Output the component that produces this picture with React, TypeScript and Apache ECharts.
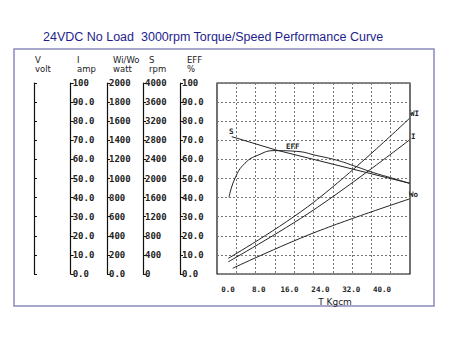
import React, { useEffect, useRef } from 'react';
import * as echarts from 'echarts';

const TITLE = '24VDC No Load  3000rpm Torque/Speed Performance Curve';
const xLabelTicks = [0, 8, 16, 24, 32, 40];
const axisHeaders = [
  ['V', 'volt'],
  ['I', 'amp'],
  ['Wi/Wo', 'watt'],
  ['S', 'rpm'],
  ['EFF', '%'],
];
const iMax = 100;
const wMax = 2000;
const sMax = 4000;
const effMax = 100;

// curve data in plot units (x: 0..40 across grid, y: 0..100 of full scale)
const sData: [number, number][] = [[3.05, 71.9], [12.1, 65.0], [39.9, 47.5]];
const effData: [number, number][] = [
  [2.49, 40.2], [3.73, 50.1], [5.8, 58.0], [8.56, 62.3], [12.0, 64.6], [16.5, 64.2],
  [20.7, 62.0], [24.8, 59.6], [28.2, 56.8], [32.4, 53.1], [35.9, 50.5], [39.9, 47.5],
];
const wiData: [number, number][] = [[2.34, 8.2], [20, 37.5], [39.9, 81.5]];
const iData: [number, number][] = [[2.34, 6.4], [20, 33.5], [39.9, 70.2]];
const woData: [number, number][] = [[3.25, 3.0], [20, 21.5], [39.9, 39.3]];

const MONO = 'DejaVu Sans Mono';
const SANS = 'DejaVu Sans';

function fmt1(v: number, max: number) {
  if (v === max) return String(max);
  return v.toFixed(1);
}

export default function App() {
  const ref = useRef<HTMLDivElement>(null);
  useEffect(() => {
    const chart = echarts.init(ref.current!, null, { renderer: 'svg' });
    const lineStyle = { color: '#222', width: 1 };
    const axisLine = { show: true, lineStyle: { color: '#111', width: 1.2 } };
    const tick = { show: true, inside: true, length: 3, lineStyle: { color: '#111', width: 1 } };
    const lbl = (formatter: any) => ({
      show: true, inside: true, margin: 2, color: '#222', fontFamily: MONO, fontWeight: 'bold' as const, fontSize: 9, formatter,
    });
    const sideAxis = (offset: number, max: number, formatter: any, showLabel = true) => ({
      type: 'value', gridIndex: 0, position: 'left', offset, min: 0, max, interval: max / 10,
      axisLine, axisTick: tick, splitLine: { show: false },
      axisLabel: showLabel ? lbl(formatter) : { show: false },
    });
    const headerGraphics: any[] = [];
    const headerX = [35, 77, 113, 149, 187];
    axisHeaders.forEach((h, i) => {
      headerGraphics.push({ type: 'text', x: headerX[i], y: 60, style: { text: h[0], font: `8.5px "${SANS}"`, fill: '#222', verticalAlign: 'middle' } });
      headerGraphics.push({ type: 'text', x: headerX[i], y: 69, style: { text: h[1], font: `8.5px "${SANS}"`, fill: '#222', verticalAlign: 'middle' } });
    });
    const curveLbl = (text: string, x: number, y: number) => ({
      type: 'text', x, y, style: { text, font: `bold 7.5px "${MONO}"`, fill: '#222', verticalAlign: 'middle' },
    });
    const option: any = {
      animation: false,
      backgroundColor: '#fff',
      grid: [
        { left: 217, right: 40, top: 83, bottom: 64, show: true, borderColor: '#111', borderWidth: 1.2, backgroundColor: 'transparent', containLabel: false, outerBoundsMode: 'none' },
        { left: 228, width: 154, top: 83, bottom: 64, show: false, containLabel: false, outerBoundsMode: 'none' },
      ],
      xAxis: [
        {
          type: 'value', gridIndex: 0, min: 0, max: 40, interval: 4,
          axisLine: { show: false }, axisTick: { show: false }, axisLabel: { show: false },
          splitLine: { show: true, lineStyle: { color: '#777', type: [2, 2], width: 1 } },
        },
        {
          type: 'value', gridIndex: 1, min: 0, max: 40, interval: 8,
          axisLine: { show: false }, axisTick: { show: false }, splitLine: { show: false },
          axisLabel: { show: true, margin: 11, color: '#222', fontFamily: MONO, fontWeight: 'bold', fontSize: 7.5, formatter: (v: number) => (xLabelTicks.includes(v) ? v.toFixed(1) : '') },
        },
      ],
      yAxis: [
        {
          type: 'value', gridIndex: 0, position: 'left', min: 0, max: 100, interval: 10,
          axisLine: { show: false }, axisTick: { show: false }, axisLabel: { show: false },
          splitLine: { show: true, lineStyle: { color: '#777', type: [2, 2], width: 1 } },
        },
        sideAxis(183, 100, null, false),
        sideAxis(146.3, iMax, (v: number) => fmt1(v, iMax)),
        sideAxis(110, wMax, (v: number) => (v === 0 ? '0.0' : String(v))),
        sideAxis(74, sMax, (v: number) => String(v)),
        sideAxis(37, effMax, (v: number) => fmt1(v, effMax)),
        { type: 'value', gridIndex: 1, show: false, min: 0, max: 100 },
      ],
      series: [
        { type: 'line', name: 'S', data: sData, xAxisIndex: 0, yAxisIndex: 0, showSymbol: false, lineStyle, smooth: false },
        { type: 'line', name: 'EFF', data: effData, xAxisIndex: 0, yAxisIndex: 0, showSymbol: false, lineStyle, smooth: true },
        { type: 'line', name: 'WI', data: wiData, xAxisIndex: 0, yAxisIndex: 0, showSymbol: false, lineStyle, smooth: 0.4 },
        { type: 'line', name: 'I', data: iData, xAxisIndex: 0, yAxisIndex: 0, showSymbol: false, lineStyle, smooth: 0.4 },
        { type: 'line', name: 'Wo', data: woData, xAxisIndex: 0, yAxisIndex: 0, showSymbol: false, lineStyle, smooth: 0.4 },
      ],
      graphic: [
        { type: 'rect', shape: { x: 14, y: 49, width: 420, height: 257 }, style: { fill: 'none', stroke: '#8a8abf', lineWidth: 1.5 }, silent: true },
        { type: 'text', x: 43, y: 37, style: { text: TITLE, font: '12.5px "Liberation Sans"', fill: '#1e1e8e', verticalAlign: 'middle' } },
        ...headerGraphics,
        { type: 'text', x: 335, y: 302, style: { text: 'T Kgcm', font: `9px "${SANS}"`, fill: '#222', align: 'center', verticalAlign: 'middle' } },
        curveLbl('S', 229, 131),
        curveLbl('EFF', 286, 146.5),
        curveLbl('WI', 410, 113.5),
        curveLbl('I', 411, 136.5),
        curveLbl('Wo', 409, 194),
      ],
    };
    chart.setOption(option);
    return () => chart.dispose();
  }, []);
  return <div ref={ref} style={{ position: 'fixed', left: 0, top: 0, width: 450, height: 338 }} />;
}
